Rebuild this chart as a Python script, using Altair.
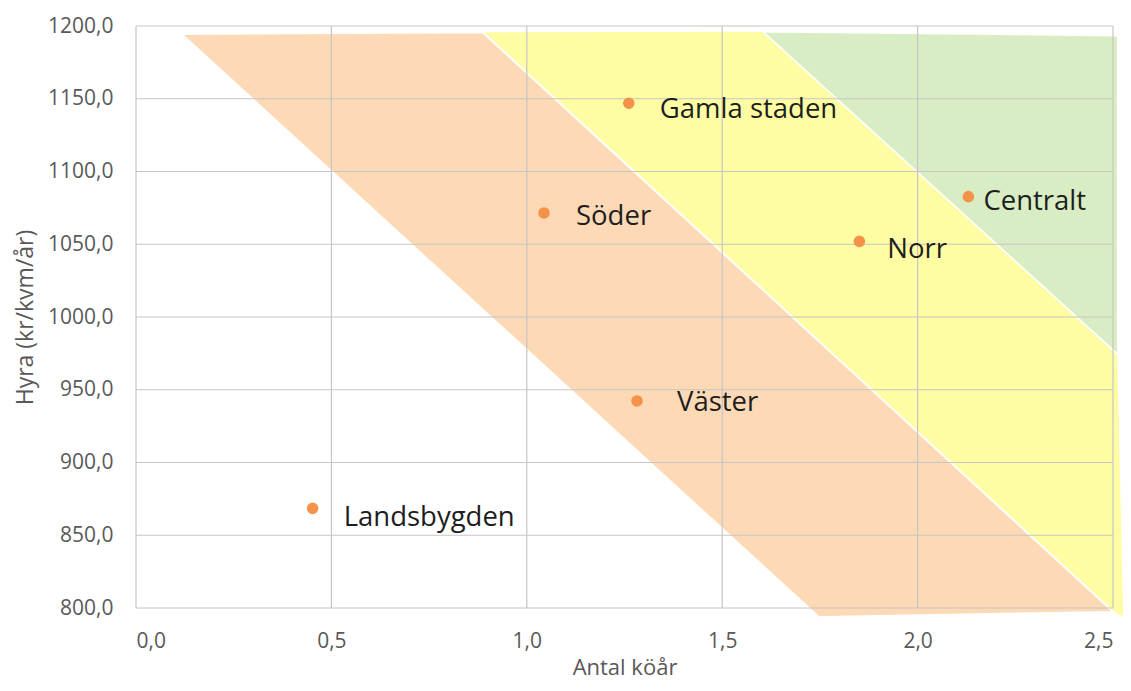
import altair as alt
import pandas as pd

# ---- data ----
AREA_NAMES = ["Landsbygden", "Söder", "Gamla staden", "Väster", "Norr", "Centralt"]
KOAR = [0.452, 1.044, 1.261, 1.282, 1.851, 2.130]
HYRA = [868.5, 1071.5, 1146.9, 942.3, 1052.0, 1082.7]

ORANGE_X = [0.120, 0.887, 2.501, 1.751]
ORANGE_Y = [1194.5, 1195.7, 797.3, 793.8]
YELLOW_X = [0.880, 1.604, 2.511, 2.526, 2.501]
YELLOW_Y = [1195.7, 1196.1, 973.9, 794.5, 797.3]
GREEN_X = [2.510, 1.604, 2.510]
GREEN_Y = [975.0, 1196.1, 1193.3]

X_TICKS = [0.0, 0.5, 1.0, 1.5, 2.0, 2.5]
Y_TICKS = [800, 850, 900, 950, 1000, 1050, 1100, 1150, 1200]

# ---- style ----
FONT = "Open Sans"
LABEL_OFFSETS = {
    "Landsbygden": (31, 10),
    "Söder": (32, 4),
    "Gamla staden": (31, 7),
    "Väster": (40, 2),
    "Norr": (28, 9),
    "Centralt": (15, 5),
}

xscale = alt.Scale(domain=[0, 2.5], nice=False, zero=False)
yscale = alt.Scale(domain=[800, 1200], nice=False, zero=False)

xaxis = alt.Axis(
    values=X_TICKS,
    format=".1f",
    labelExpr="replace(datum.label, '.', ',')",
    grid=False,
    domain=False,
    ticks=False,
    tickSize=0,
    labelPadding=22,
    labelFont=FONT,
    labelFontSize=21,
    labelColor="#595959",
    title="Antal köår",
    titleFont=FONT,
    titleFontSize=22,
    titleFontWeight="normal",
    titleColor="#595959",
    titleX=488.5,
    titleY=59,
    titleAlign="center",
    titleBaseline="middle",
)
yaxis = alt.Axis(
    values=Y_TICKS,
    format=".1f",
    labelExpr="replace(datum.label, '.', ',')",
    grid=False,
    domain=False,
    ticks=False,
    tickSize=0,
    labelPadding=23,
    labelFont=FONT,
    labelFontSize=21,
    labelColor="#595959",
    title="Hyra (kr/kvm/år)",
    titleFont=FONT,
    titleFontSize=23,
    titleFontWeight="normal",
    titleColor="#595959",
    titleX=-111,
    titleY=291,
    titleAngle=-90,
    titleAlign="center",
    titleBaseline="middle",
)

X = lambda: alt.X("x:Q", scale=xscale, axis=xaxis)
Y = lambda: alt.Y("y:Q", scale=yscale, axis=yaxis)


def poly(xs, ys, fill, sw):
    df = pd.DataFrame({"x": xs, "y": ys, "i": list(range(len(xs)))})
    return alt.Chart(df).mark_line(fill=fill, stroke="white", strokeWidth=sw).encode(
        x=X(), y=Y(), order=alt.Order("i:Q")
    )


yellow = poly(YELLOW_X, YELLOW_Y, "#FFFDA3", 0)
green = poly(GREEN_X, GREEN_Y, "#D8EDC4", 1.5)
orange = poly(ORANGE_X, ORANGE_Y, "#FDD9B5", 2)

gx = alt.Chart(pd.DataFrame({"x": X_TICKS})).mark_rule(color="#C6C6C6", strokeWidth=1.2).encode(x=X())
gy = alt.Chart(pd.DataFrame({"y": Y_TICKS})).mark_rule(color="#C6C6C6", strokeWidth=1.2).encode(y=Y())

pts_df = pd.DataFrame({"name": AREA_NAMES, "x": KOAR, "y": HYRA})

points = alt.Chart(pts_df).mark_circle(size=135, color="#F5924A", opacity=1).encode(x=X(), y=Y())

labels = []
for name in AREA_NAMES:
    dx, dy = LABEL_OFFSETS[name]
    labels.append(
        alt.Chart(pts_df)
        .transform_filter(alt.datum.name == name)
        .mark_text(align="left", baseline="middle", dx=dx, dy=dy, font=FONT, fontSize=27.5, color="#1E1E1E")
        .encode(x=X(), y=Y(), text="name:N")
    )

chart = (
    alt.layer(yellow, green, orange, gx, gy, points, *labels)
    .properties(
        width=977,
        height=582,
        autosize=alt.AutoSizeParams(type="none"),
        padding={"left": 128, "top": 18, "right": 10, "bottom": 74},
    )
    .configure_view(stroke=None)
)

chart.save("out.html", embed_options={"renderer": "svg", "actions": False})
